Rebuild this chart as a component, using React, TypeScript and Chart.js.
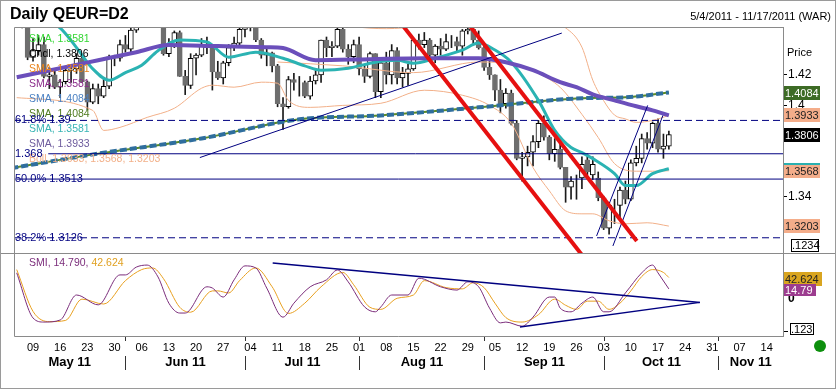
import React, { useEffect, useRef } from "react";
import { Chart, registerables } from "chart.js";
Chart.register(...registerables);

const FONT = '"Liberation Sans", Arial, Helvetica, sans-serif';
const TITLE = "Daily QEUR=D2";
const DATE_RANGE = "5/4/2011 - 11/17/2011 (WAR)";

// ---- Price candles (trading days from 4 May 2011, index 0) ----
const opens = [1.482,1.483,1.4525,1.4315,1.436,1.44,1.419,1.42,1.412,1.4155,1.423,1.424,1.431,1.4155,1.402,1.411,1.406,1.4125,1.432,1.431,1.44,1.437,1.4495,1.463,1.46,1.468,1.458,1.462,1.434,1.44,1.448,1.419,1.413,1.431,1.433,1.44,1.438,1.422,1.418,1.428,1.438,1.441,1.45,1.452,1.453,1.443,1.433,1.4345,1.426,1.401,1.399,1.417,1.415,1.415,1.406,1.416,1.42,1.443,1.438,1.439,1.45,1.437,1.432,1.44,1.424,1.419,1.434,1.409,1.428,1.42,1.436,1.418,1.421,1.424,1.443,1.44,1.443,1.433,1.439,1.437,1.442,1.442,1.439,1.449,1.45,1.443,1.438,1.425,1.42,1.41,1.401,1.408,1.388,1.365,1.366,1.369,1.376,1.388,1.379,1.368,1.371,1.359,1.346,1.35,1.352,1.364,1.354,1.352,1.339,1.319,1.334,1.334,1.344,1.338,1.362,1.365,1.378,1.375,1.388,1.371,1.373];
const highs = [1.494,1.485,1.458,1.444,1.446,1.445,1.425,1.424,1.417,1.425,1.427,1.434,1.433,1.416,1.414,1.414,1.418,1.433,1.433,1.443,1.446,1.452,1.464,1.467,1.47,1.469,1.465,1.463,1.444,1.449,1.449,1.423,1.434,1.434,1.444,1.445,1.439,1.429,1.429,1.44,1.445,1.451,1.454,1.455,1.455,1.444,1.437,1.435,1.427,1.405,1.419,1.421,1.419,1.416,1.419,1.424,1.443,1.445,1.442,1.453,1.451,1.44,1.443,1.445,1.427,1.435,1.434,1.43,1.435,1.44,1.438,1.425,1.427,1.444,1.447,1.448,1.444,1.44,1.444,1.447,1.446,1.445,1.45,1.455,1.454,1.449,1.439,1.431,1.42,1.417,1.411,1.41,1.39,1.369,1.373,1.38,1.39,1.393,1.38,1.378,1.377,1.359,1.353,1.354,1.366,1.368,1.366,1.356,1.34,1.336,1.338,1.346,1.35,1.364,1.373,1.381,1.382,1.389,1.391,1.381,1.383];
const lows = [1.48,1.451,1.43,1.429,1.433,1.418,1.411,1.411,1.405,1.414,1.415,1.421,1.415,1.397,1.401,1.401,1.405,1.411,1.426,1.429,1.435,1.434,1.448,1.458,1.459,1.456,1.453,1.433,1.432,1.438,1.419,1.407,1.411,1.42,1.432,1.434,1.41,1.417,1.414,1.426,1.436,1.439,1.445,1.449,1.442,1.431,1.426,1.422,1.399,1.384,1.398,1.41,1.406,1.405,1.404,1.414,1.415,1.432,1.432,1.438,1.435,1.427,1.428,1.42,1.415,1.418,1.405,1.405,1.414,1.414,1.414,1.412,1.413,1.423,1.437,1.438,1.43,1.428,1.433,1.436,1.438,1.435,1.433,1.447,1.44,1.437,1.423,1.417,1.403,1.395,1.398,1.387,1.364,1.35,1.36,1.36,1.372,1.377,1.364,1.363,1.358,1.336,1.338,1.338,1.345,1.354,1.351,1.337,1.318,1.315,1.322,1.326,1.335,1.337,1.36,1.362,1.371,1.372,1.369,1.365,1.371];
const closes = [1.483,1.4525,1.4315,1.436,1.44,1.419,1.42,1.412,1.4155,1.423,1.424,1.431,1.4155,1.402,1.411,1.406,1.4125,1.432,1.431,1.44,1.437,1.4495,1.463,1.46,1.468,1.458,1.462,1.434,1.44,1.448,1.419,1.413,1.431,1.433,1.44,1.438,1.422,1.418,1.428,1.438,1.441,1.45,1.452,1.453,1.443,1.433,1.4345,1.426,1.401,1.399,1.417,1.415,1.415,1.406,1.416,1.42,1.443,1.438,1.439,1.45,1.437,1.432,1.44,1.424,1.419,1.434,1.409,1.428,1.42,1.436,1.418,1.421,1.424,1.443,1.44,1.443,1.433,1.439,1.437,1.442,1.442,1.439,1.449,1.45,1.443,1.438,1.425,1.42,1.41,1.401,1.408,1.388,1.365,1.366,1.369,1.376,1.388,1.379,1.368,1.371,1.359,1.346,1.35,1.35,1.361,1.356,1.361,1.339,1.319,1.334,1.334,1.344,1.338,1.362,1.365,1.378,1.375,1.388,1.371,1.373,1.3806];

// ---- Indicator lines (trading-day index, price) ----
const sma50Idx = [0, 8, 15, 22, 28, 37, 46, 49, 55, 65, 75, 85, 90, 95, 100, 103, 106, 110, 114, 117, 120];
const sma50Val = [1.4185, 1.4244, 1.4297, 1.435, 1.4397, 1.439, 1.4383, 1.4377, 1.4297, 1.4304, 1.431, 1.431, 1.4284, 1.4231, 1.4152, 1.4119, 1.4072, 1.4032, 1.3993, 1.3966, 1.3933];
const sma20Idx = [5, 8, 11, 14, 17, 20, 23, 26, 30, 35, 39, 44, 49, 53, 56, 61, 66, 70, 73, 77, 82, 85, 88, 91, 96, 99, 102, 104, 106, 110, 112, 114, 117, 120];
const sma20Val = [1.456, 1.4509, 1.438, 1.424, 1.4165, 1.4215, 1.4264, 1.436, 1.443, 1.4417, 1.4317, 1.435, 1.431, 1.426, 1.4231, 1.4244, 1.4284, 1.4297, 1.4277, 1.431, 1.4364, 1.441, 1.4364, 1.4284, 1.4032, 1.3834, 1.3721, 1.3688, 1.3648, 1.3549, 1.347, 1.347, 1.3549, 1.3581];
const sma200Idx = [-1, 15, 34, 52, 67, 85, 104, 112, 120];
const sma200Val = [1.3585, 1.3681, 1.3781, 1.3907, 1.3933, 1.3986, 1.4046, 1.4052, 1.4084];
const bollUpIdx = [0, 20, 40, 55, 62, 68, 74, 85, 95, 101, 104, 106, 108, 110, 112, 114, 117, 120];
const bollUpVal = [1.49, 1.47, 1.468, 1.458, 1.452, 1.4505, 1.452, 1.458, 1.458, 1.451, 1.4383, 1.4165, 1.403, 1.3935, 1.391, 1.3887, 1.39, 1.3933];
const bollMidIdx = [48, 60, 73, 85, 92, 96, 100, 104, 107, 110, 114, 117, 120];
const bollMidVal = [1.4285, 1.426, 1.4215, 1.4285, 1.427, 1.421, 1.4118, 1.394, 1.3787, 1.3615, 1.3565, 1.3565, 1.3568];
const bollLowIdx = [0, 14, 16, 19, 24, 29, 34, 36, 40, 45, 48, 50, 54, 60, 67, 75, 82, 87, 91, 95, 98, 101, 104, 106, 109, 112, 116, 120];
const bollLowVal = [1.405, 1.3966, 1.3834, 1.3854, 1.392, 1.398, 1.4112, 1.4132, 1.4119, 1.4152, 1.4145, 1.4032, 1.3986, 1.3999, 1.4013, 1.4099, 1.4066, 1.3999, 1.388, 1.3589, 1.3436, 1.3304, 1.3284, 1.3284, 1.3238, 1.3218, 1.3225, 1.3203];

// ---- Drawn trend lines / levels ----
const red1Idx = [70, 105];
const red1Val = [1.4573, 1.2967];
const red2Idx = [83, 114.1];
const red2Val = [1.4541, 1.3105];
const navyIdx = [33.7, 100.3];
const navyVal = [1.3655, 1.4476];
const chanAIdx = [106.7, 116.1];
const chanAVal = [1.3138, 1.3999];
const chanBIdx = [109.7, 118.9];
const chanBVal = [1.3072, 1.3933];
const fibLevels = [1.39, 1.368, 1.3513, 1.3126];
const fibStart = [-0.5, 5.8, -0.5, -0.5];
const fibDashed = [true, false, false, true];
const fibLabels = ["61.8% 1.39", "1.368", "50.0% 1.3513", "38.2% 1.3126"];

// ---- Legend ----
const legendTexts = ["SMA, 1.3581", "Cndl, 1.3806", "SMA, 1.3581", "SMA, 1.3581", "SMA, 1.4084", "SMA, 1.4084", "SMA, 1.3581", "SMA, 1.3933", "Boll, 1.3933, 1.3568, 1.3203"];
const legendColors = ["#33d633", "#000000", "#e8841c", "#8b2c8b", "#4a80c2", "#4e7a1e", "#38b4b4", "#6c5a9c", "#f2b089"];

// ---- Right-axis value boxes ----
const boxValues = [1.4084, 1.3933, 1.3806, 1.3568, 1.3203];
const boxFill = ["#3d6b25", "#f4ad8a", "#000000", "#f4ad8a", "#f4ad8a"];
const boxTextColor = ["#ffffff", "#222222", "#ffffff", "#222222", "#222222"];
const priceTicks = [1.34, 1.4, 1.42];

// ---- SMI panel ----
const smiIdx = [0, 3, 5, 8, 11, 15, 19, 20, 22, 24, 26, 28, 30, 31, 35, 36, 38, 40, 42, 44, 46, 49, 51, 54, 57, 59, 61, 64, 66, 67, 69, 72, 74, 78, 81, 83, 85, 87, 89, 90, 93, 95, 98, 99, 100, 102, 104, 106, 108, 109, 112, 115, 117, 118, 120];
const smiVal = [54, -56, -66, -61, 0, -24, 49, 49, 68, 73, 44, -20, -44, -44, 20, 17, -5, 37, 71, 66, 17, -54, -20, 20, 37, 61, 32, -29, -41, -29, 0, 0, 41, 20, 12, 32, 20, -32, -68, -66, -76, -54, -5, -5, -32, -41, -20, -5, -41, -41, 5, 54, 73, 54, 14.79];
const sigIdx = [0, 3, 6, 9, 12, 16, 20, 23, 25, 27, 30, 32, 36, 37, 39, 41, 44, 47, 50, 53, 56, 60, 62, 65, 67, 70, 73, 75, 79, 82, 84, 86, 88, 90, 93, 96, 99, 101, 103, 105, 107, 109, 111, 113, 115, 117, 119, 120];
const sigVal = [62, -40, -65, -62, -10, -22, 35, 62, 66, 40, -30, -42, 10, 10, 5, 35, 66, 20, -45, -20, 20, 55, 25, -30, -35, -8, 0, 35, 18, 15, 30, 18, -20, -55, -66, -48, -10, -25, -35, -15, -15, -35, -20, 10, 45, 62, 55, 42.624];
const smiUpIdx = [47.1, 125.7];
const smiUpVal = [78, -18];
const smiLowIdx = [92.6, 125.7];
const smiLowVal = [-78, -18];

// ---- X axis ----
const firstMondayIdx = 3;
const dayTicks = ["09","16","23","30","06","13","20","27","04","11","18","25","01","08","15","22","29","05","12","19","26","03","10","17","24","31","07","14"];
const monthStartIdx = [20, 42, 63, 86, 108, 129];
const monthLabels = ["May 11", "Jun 11", "Jul 11", "Aug 11", "Sep 11", "Oct 11", "Nov 11"];

const X_MIN = -0.5;
const X_MAX = 141;

function pts(xs: number[], ys: number[]) {
  return xs.map((x, i) => ({ x, y: ys[i] }));
}

function lineDs(data: any[], color: string, width: number, order: number, extra: any = {}) {
  return {
    type: "line",
    data,
    borderColor: color,
    backgroundColor: color,
    borderWidth: width,
    pointRadius: 0,
    fill: false,
    order,
    clip: 0,
    cubicInterpolationMode: "monotone",
    ...extra,
  };
}

const mainDeco = {
  id: "mainDeco",
  afterDraw(chart: any) {
    const { ctx, chartArea: a } = chart;
    const ys = chart.scales.y;
    ctx.save();
    ctx.strokeStyle = "#8a8a8a";
    ctx.lineWidth = 1;
    ctx.beginPath();
    ctx.moveTo(a.left + 0.5, a.bottom);
    ctx.lineTo(a.left + 0.5, a.top + 0.5);
    ctx.lineTo(a.right, a.top + 0.5);
    ctx.moveTo(0, a.bottom - 0.5);
    ctx.lineTo(836, a.bottom - 0.5);
    ctx.stroke();

    ctx.fillStyle = "#000";
    ctx.textBaseline = "alphabetic";
    ctx.textAlign = "left";
    ctx.font = `bold 16px ${FONT}`;
    ctx.fillText(TITLE, 10, 19);
    ctx.font = `11px ${FONT}`;
    ctx.textAlign = "right";
    ctx.fillText(DATE_RANGE, 831, 20);
    ctx.textAlign = "left";
    ctx.fillText("Price", 787, 56);

    ctx.textBaseline = "middle";
    ctx.font = `10.5px ${FONT}`;
    legendTexts.forEach((t, i) => {
      ctx.fillStyle = legendColors[i];
      ctx.fillText(t, 29, 39 + 15 * i);
    });

    ctx.fillStyle = "#000080";
    ctx.font = `11px ${FONT}`;
    fibLabels.forEach((t, i) => {
      ctx.fillText(t, 15, ys.getPixelForValue(fibLevels[i]));
    });

    ctx.font = `11px ${FONT}`;
    boxValues.forEach((v, i) => {
      const y = Math.round(ys.getPixelForValue(v));
      ctx.fillStyle = boxFill[i];
      ctx.fillRect(784, y - 7, 36, 14);
      if (i === 3) {
        ctx.fillStyle = "#2ab0b0";
        ctx.fillRect(784, y - 8, 36, 2);
      }
      ctx.fillStyle = boxTextColor[i];
      ctx.fillText(v.toFixed(4), 785, y + 0.5);
    });
    ctx.fillStyle = "#fff";
    ctx.fillRect(791, 239, 28, 13);
    ctx.strokeStyle = "#000";
    ctx.strokeRect(791.5, 239.5, 27, 12);
    ctx.fillStyle = "#000";
    ctx.fillText(".1234", 792, 246);
    ctx.restore();
  },
};

const smiDeco = {
  id: "smiDeco",
  afterDraw(chart: any) {
    const { ctx, chartArea: a } = chart;
    const xs = chart.scales.x;
    const ys = chart.scales.y;
    ctx.save();
    ctx.strokeStyle = "#8a8a8a";
    ctx.lineWidth = 1;
    ctx.beginPath();
    ctx.moveTo(a.left + 0.5, a.top);
    ctx.lineTo(a.left + 0.5, a.bottom + 0.5);
    ctx.lineTo(a.right, a.bottom + 0.5);
    ctx.stroke();

    ctx.textBaseline = "middle";
    ctx.textAlign = "left";
    ctx.font = `10.5px ${FONT}`;
    const t1 = "SMI, 14.790, ";
    ctx.fillStyle = "#7b2d7b";
    ctx.fillText(t1, 29, 9);
    ctx.fillStyle = "#e0a020";
    ctx.fillText("42.624", 29 + ctx.measureText(t1).width, 9);

    ctx.font = `11px ${FONT}`;
    const gy = Math.round(ys.getPixelForValue(42.624)) + 1;
    ctx.fillStyle = "#d9a520";
    ctx.fillRect(784, gy - 7, 38, 14);
    ctx.fillStyle = "#222";
    ctx.fillText("42.624", 785, gy + 0.5);
    const py = Math.round(ys.getPixelForValue(14.79)) + 1;
    ctx.fillStyle = "#9c3c8f";
    ctx.fillRect(784, py - 6, 32, 12);
    ctx.fillStyle = "#fff";
    ctx.fillText("14.79", 785, py + 0.5);

    ctx.fillStyle = "#fff";
    ctx.fillRect(790, 69, 24, 12);
    ctx.strokeStyle = "#000";
    ctx.strokeRect(790.5, 69.5, 23, 11);
    ctx.fillStyle = "#000";
    ctx.fillText(".123", 791, 75.5);
    ctx.fillRect(784, 77, 4, 1);

    ctx.strokeStyle = "#333";
    ctx.beginPath();
    const sepX = monthStartIdx.map((m) => Math.round(xs.getPixelForValue(m)) + 0.5);
    sepX.forEach((x) => {
      ctx.moveTo(x, a.bottom + 1);
      ctx.lineTo(x, a.bottom + 5);
      ctx.moveTo(x, 102);
      ctx.lineTo(x, 116);
    });
    ctx.stroke();

    ctx.font = `bold 13px ${FONT}`;
    ctx.textAlign = "center";
    ctx.fillStyle = "#000";
    monthLabels.forEach((m, i) => {
      const l = i === 0 ? a.left : sepX[i - 1];
      const r = i === monthLabels.length - 1 ? a.right : sepX[i];
      ctx.fillText(m, (l + r) / 2, 108);
    });

    ctx.fillStyle = "#0d8f0d";
    ctx.beginPath();
    ctx.arc(820, 92, 6, 0, Math.PI * 2);
    ctx.fill();
    ctx.restore();
  },
};

export default function App() {
  const mainRef = useRef<HTMLCanvasElement>(null);
  const smiRef = useRef<HTMLCanvasElement>(null);

  useEffect(() => {
    const wickData = opens.map((_, i) => ({ x: i, y: [lows[i], highs[i]] }));
    const bodyData = opens.map((o, i) => ({ x: i, y: [o, closes[i]] }));
    const bodyFill = opens.map((o, i) => (closes[i] >= o ? "#ffffff" : "#6e6e6e"));
    const bodyStroke = opens.map((o, i) => (closes[i] >= o ? "#000000" : "#6e6e6e"));

    const fibDs = fibLevels.map((v, i) =>
      lineDs(pts([fibStart[i], X_MAX], [v, v]), "#000080", 1, 3, {
        borderDash: fibDashed[i] ? [7, 4] : [],
        cubicInterpolationMode: "default",
        tension: 0,
      })
    );

    const main = new Chart(mainRef.current as HTMLCanvasElement, {
      type: "bar",
      data: {
        datasets: [
          lineDs(pts(red1Idx, red1Val), "#e61010", 4, 1, { tension: 0 }),
          lineDs(pts(red2Idx, red2Val), "#e61010", 4, 1, { tension: 0 }),
          lineDs(pts(navyIdx, navyVal), "#000080", 1, 2, { tension: 0 }),
          lineDs(pts(chanAIdx, chanAVal), "#000080", 1, 2, { tension: 0 }),
          lineDs(pts(chanBIdx, chanBVal), "#000080", 1, 2, { tension: 0 }),
          ...fibDs,
          lineDs(pts(sma50Idx, sma50Val), "#6b4fbb", 4, 5),
          lineDs(pts(sma20Idx, sma20Val), "#2bb3b3", 3, 6),
          lineDs(pts(sma200Idx, sma200Val), "#2f6e9e", 4, 7, { borderDash: [7, 3] }),
          lineDs(pts(sma200Idx, sma200Val), "#5a8a2a", 2, 8),
          lineDs(pts(bollUpIdx, bollUpVal), "#f2b089", 1, 9),
          lineDs(pts(bollMidIdx, bollMidVal), "#f2b089", 1, 9),
          lineDs(pts(bollLowIdx, bollLowVal), "#f2b089", 1, 9),
          {
            type: "bar",
            data: bodyData,
            backgroundColor: bodyFill,
            borderColor: bodyStroke,
            borderWidth: 1,
            borderSkipped: false,
            barThickness: 5,
            grouped: false,
            order: 20,
            clip: 0,
          },
          {
            type: "bar",
            data: wickData,
            backgroundColor: "#1a1a1a",
            barThickness: 1,
            grouped: false,
            order: 21,
            clip: 0,
          },
        ] as any,
      },
      options: {
        responsive: false,
        animation: false,
        events: [],
        layout: { padding: { left: 14, top: 27, right: 0, bottom: 0 } },
        plugins: { legend: { display: false }, tooltip: { enabled: false } },
        scales: {
          x: { type: "linear", min: X_MIN, max: X_MAX, offset: false, display: false },
          y: {
            type: "linear",
            position: "right",
            min: 1.3019,
            max: 1.4516,
            afterFit: (s: any) => {
              s.width = 53;
              s.paddingTop = 0;
              s.paddingBottom = 0;
            },
            afterBuildTicks: (s: any) => {
              s.ticks = priceTicks.map((v) => ({ value: v }));
            },
            grid: { drawOnChartArea: false, drawTicks: true, tickLength: 4, color: "#000" },
            border: { color: "#8a8a8a" },
            ticks: {
              color: "#000",
              padding: 1,
              font: { family: FONT, size: 12 },
              callback: (v: any) => (Math.abs(v - 1.4) < 1e-9 ? "1.4" : Number(v).toFixed(2)),
            },
          },
        },
      } as any,
      plugins: [mainDeco],
    });

    const smi = new Chart(smiRef.current as HTMLCanvasElement, {
      type: "line",
      data: {
        datasets: [
          lineDs(pts(smiUpIdx, smiUpVal), "#000080", 1.5, 1, { tension: 0 }),
          lineDs(pts(smiLowIdx, smiLowVal), "#000080", 1.5, 1, { tension: 0 }),
          lineDs(pts(sigIdx, sigVal), "#e8a020", 1, 3),
          lineDs(pts(smiIdx, smiVal), "#7b2d7b", 1, 2),
        ] as any,
      },
      options: {
        responsive: false,
        animation: false,
        events: [],
        layout: { padding: { left: 14, top: 0, right: 0, bottom: 0 } },
        plugins: { legend: { display: false }, tooltip: { enabled: false } },
        scales: {
          x: {
            type: "linear",
            min: X_MIN,
            max: X_MAX,
            offset: false,
            afterFit: (s: any) => {
              s.height = 55;
              s.paddingLeft = 0;
              s.paddingRight = 0;
            },
            afterBuildTicks: (s: any) => {
              s.ticks = dayTicks.map((_, k) => ({ value: firstMondayIdx + 5 * k }));
            },
            grid: { display: false, drawTicks: false },
            border: { display: false },
            ticks: {
              autoSkip: false,
              maxRotation: 0,
              padding: 5,
              color: "#000",
              font: { family: FONT, size: 11 },
              callback: (_v: any, i: number) => dayTicks[i],
            },
          },
          y: {
            type: "linear",
            position: "right",
            min: -100,
            max: 100,
            afterFit: (s: any) => {
              s.width = 53;
              s.paddingTop = 0;
              s.paddingBottom = 0;
            },
            afterBuildTicks: (s: any) => {
              s.ticks = [{ value: 0 }];
            },
            grid: { drawOnChartArea: false, drawTicks: true, tickLength: 4, color: "#000" },
            border: { color: "#8a8a8a" },
            ticks: {
              color: "#000",
              padding: 1,
              labelOffset: 4,
              font: { family: FONT, size: 12, weight: "bold" },
            },
          },
        },
      } as any,
      plugins: [smiDeco],
    });

    return () => {
      main.destroy();
      smi.destroy();
    };
  }, []);

  return (
    <div style={{ position: "absolute", left: 0, top: 0, width: 836, height: 391, background: "#fff", overflow: "hidden" }}>
      <canvas ref={mainRef} width={836} height={254} style={{ position: "absolute", left: 0, top: 0 }} />
      <canvas ref={smiRef} width={836} height={137} style={{ position: "absolute", left: 0, top: 254 }} />
      <div
        style={{
          position: "absolute",
          left: 0,
          top: 0,
          width: 834,
          height: 387,
          border: "1px solid #9a9a9a",
          pointerEvents: "none",
        }}
      />
    </div>
  );
}
